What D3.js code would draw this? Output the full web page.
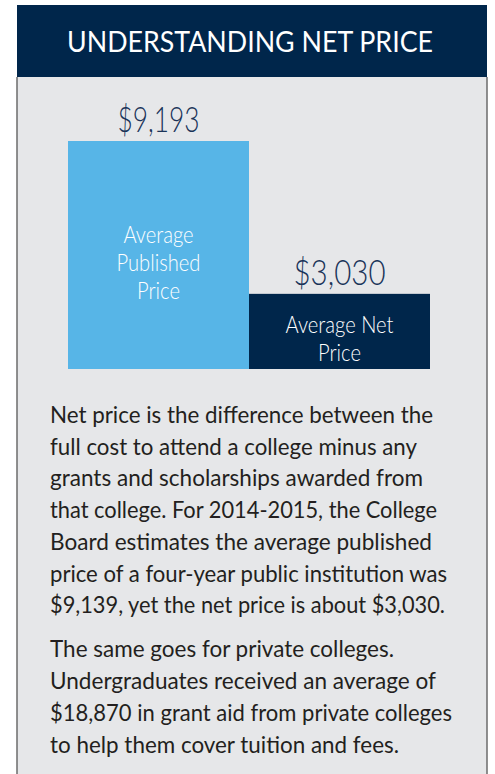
<!DOCTYPE html>
<html>
<head>
<meta charset="utf-8">
<script src="https://cdn.jsdelivr.net/npm/d3@7"></script>
<style>
  body { margin: 0; background: #ffffff; }
  svg { display: block; }
</style>
</head>
<body>
<div id="chart"></div>
<script>
// dati
var titleText = 'UNDERSTANDING NET PRICE';
var categories = ['Average Published Price', 'Average Net Price'];
var values = [9193, 3030];
var valueLabels = ['$9,193', '$3,030'];
var barLabels = [['Average', 'Published', 'Price'], ['Average Net', 'Price']];
var para1 = [
  'Net price is the difference between the',
  'full cost to attend a college minus any',
  'grants and scholarships awarded from',
  'that college. For 2014-2015, the College',
  'Board estimates the average published',
  'price of a four-year public institution was',
  '$9,139, yet the net price is about $3,030.'
];
var para2 = [
  'The same goes for private colleges.',
  'Undergraduates received an average of',
  '$18,870 in grant aid from private colleges',
  'to help them cover tuition and fees.'
];

// larghezze delle righe (layout)
var para1Widths = [383, 367, 373, 387, 382, 397, 395];
var para2Widths = [344, 386, 402, 349];

var width = 495, height = 774;
var navy = '#00264b', lightBlue = '#57b5e7', panelGray = '#e6e7e9';
var barColors = [lightBlue, navy];

var svg = d3.select('#chart').append('svg')
    .attr('width', width)
    .attr('height', height);

// pannello
svg.append('rect').attr('x', 17).attr('y', 5).attr('width', 470).attr('height', height)
    .attr('fill', panelGray);
svg.append('line').attr('x1', 17).attr('x2', 17).attr('y1', 77).attr('y2', height)
    .attr('stroke', '#6b6b6b').attr('stroke-width', 1.5);
svg.append('line').attr('x1', 487).attr('x2', 487).attr('y1', 77).attr('y2', height)
    .attr('stroke', '#6b6b6b').attr('stroke-width', 1.5);
svg.append('rect').attr('x', 17).attr('y', 5).attr('width', 470).attr('height', 72)
    .attr('fill', navy);

// titolo
svg.append('text')
    .attr('x', 250).attr('y', 52)
    .attr('text-anchor', 'middle')
    .attr('fill', '#ffffff')
    .style('font-family', 'Lato, "Open Sans", sans-serif')
    .style('font-size', '28px')
    .attr('textLength', 366)
    .attr('lengthAdjust', 'spacingAndGlyphs')
    .text(titleText);

// scale
var x = d3.scaleBand().domain(categories).range([68, 430]).padding(0);
var y = d3.scaleLinear().domain([0, d3.max(values)]).range([369, 141]);

var data = categories.map(function(c, i) {
  return { cat: c, value: values[i], label: valueLabels[i], lines: barLabels[i], color: barColors[i] };
});

var bars = svg.append('g').attr('class', 'bars');

bars.selectAll('rect')
    .data(data)
    .enter()
    .append('rect')
    .attr('x', d => x(d.cat))
    .attr('y', d => y(d.value))
    .attr('width', x.bandwidth())
    .attr('height', d => y(0) - y(d.value))
    .attr('fill', d => d.color);

// etichette valore
var valueWidths = [82, 92];
bars.selectAll('text.value')
    .data(data)
    .enter()
    .append('text')
    .attr('class', 'value')
    .attr('x', d => x(d.cat) + x.bandwidth() / 2)
    .attr('y', d => y(d.value) - 9)
    .attr('text-anchor', 'middle')
    .attr('fill', '#1a3459')
    .style('font-family', 'Lato, "Open Sans", sans-serif')
    .style('font-weight', 300)
    .style('font-size', '35px')
    .attr('textLength', (d, i) => valueWidths[i])
    .attr('lengthAdjust', 'spacingAndGlyphs')
    .text(d => d.label);

// etichette interne
var inner = bars.selectAll('g.inner')
    .data(data)
    .enter()
    .append('g')
    .attr('class', 'inner');

inner.each(function(d) {
  var g = d3.select(this);
  var cx = x(d.cat) + x.bandwidth() / 2;
  var mid = (y(d.value) + y(0)) / 2 + 7;
  var n = d.lines.length;
  d.lines.forEach(function(line, i) {
    var t = g.append('text')
        .attr('x', cx)
        .attr('y', mid + (i - (n - 1) / 2) * 28 + 9)
        .attr('text-anchor', 'middle')
        .attr('fill', '#ffffff')
        .style('font-family', 'Lato, "Open Sans", sans-serif')
        .style('font-weight', 300)
        .style('font-size', '24px')
        .text(line);
    // condensa leggermente come l'originale
    var w = t.node().getComputedTextLength();
    t.attr('textLength', w * 0.84).attr('lengthAdjust', 'spacingAndGlyphs');
  });
});

// testo descrittivo
function drawParagraph(lines, widths, top, lead) {
  var g = svg.append('g');
  g.selectAll('text')
      .data(lines)
      .enter()
      .append('text')
      .attr('x', 50)
      .attr('y', (d, i) => top + i * lead)
      .attr('fill', '#231f20')
      .style('font-family', 'Lato, "Open Sans", sans-serif')
      .style('font-size', '24px')
      .attr('textLength', (d, i) => widths[i])
      .attr('lengthAdjust', 'spacingAndGlyphs')
      .text(d => d);
}

drawParagraph(para1, para1Widths, 423, 31.7);
drawParagraph(para2, para2Widths, 657, 32);
</script>
</body>
</html>
